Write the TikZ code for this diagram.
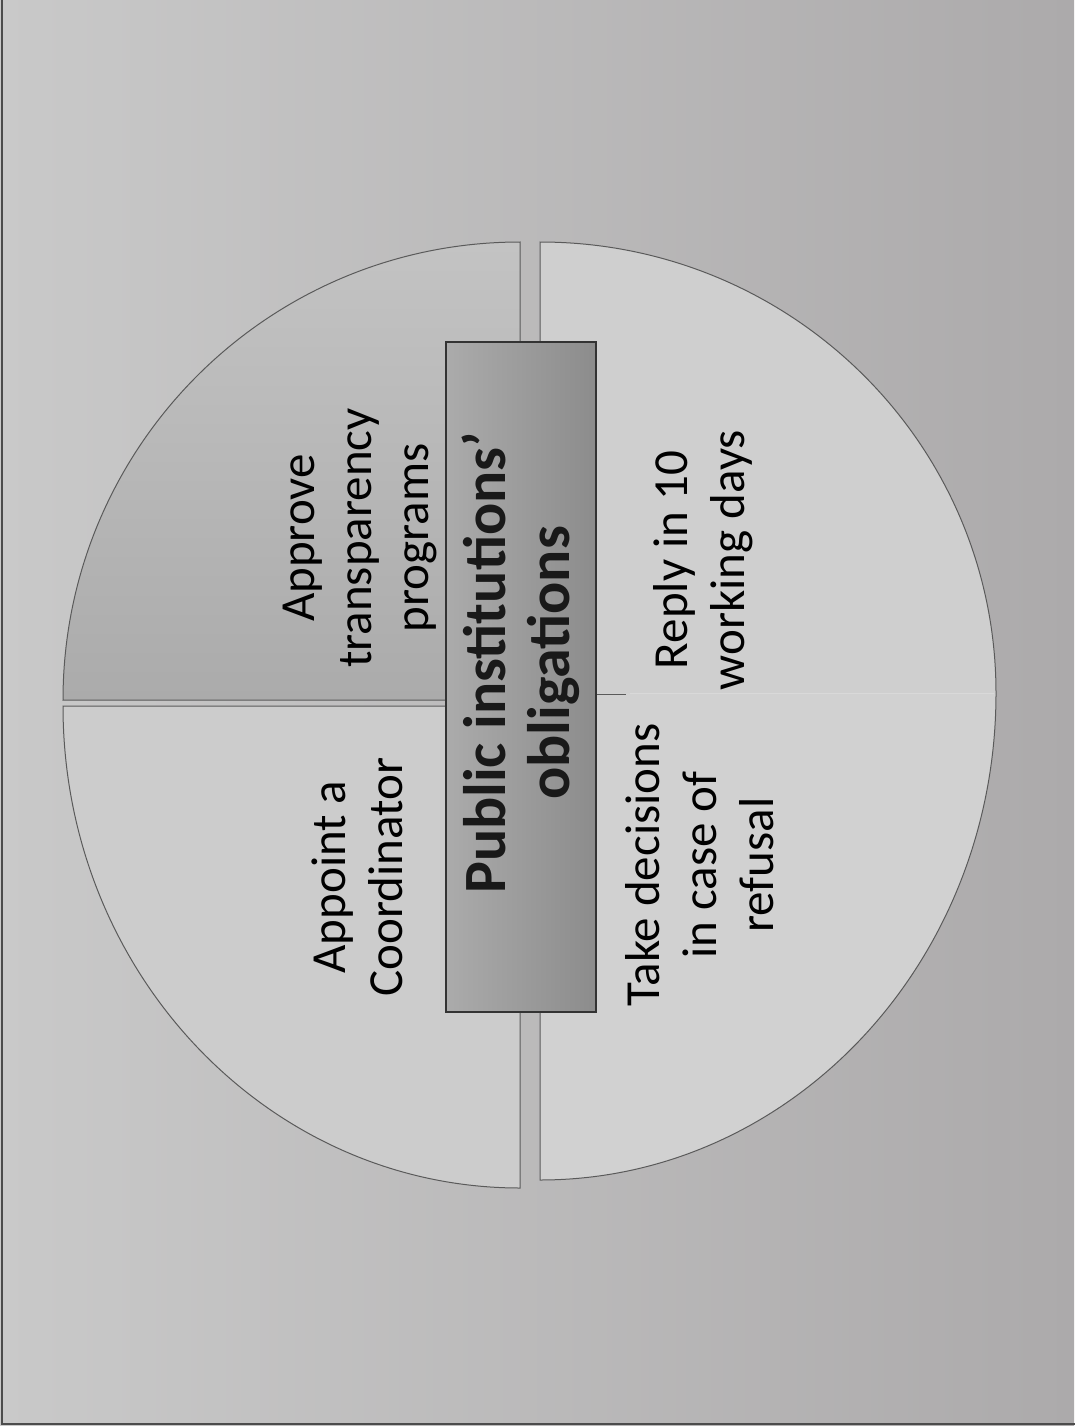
\documentclass[tikz,border=0pt]{standalone}
\usepackage{fontspec}
\setmainfont{Carlito}
\definecolor{bgL}{HTML}{C9C9C9}
\definecolor{bgR}{HTML}{ACAAAB}
\definecolor{edge}{HTML}{5A5A5A}
\definecolor{qTLtop}{HTML}{C3C3C3}
\definecolor{qTLbot}{HTML}{ABABAB}
\definecolor{qBL}{HTML}{CCCCCC}
\definecolor{qTR}{HTML}{CFCFCF}
\definecolor{qBR}{HTML}{D1D1D1}
\definecolor{boxL}{HTML}{ABABAB}
\definecolor{boxR}{HTML}{8C8C8C}
\tikzset{
  quad/.style={draw=edge, line width=1pt},
  qtext/.style={rotate=90, align=center, font=\fontsize{49}{57}\selectfont, text=black},
  ttext/.style={rotate=90, align=center, font=\fontsize{60}{64}\selectfont\bfseries, text=black!90}
}
\begin{document}
\begin{tikzpicture}[x=1pt,y=-1pt]
\useasboundingbox (0,0) rectangle (1074,1426);
% background
\shade[left color=bgL, right color=bgR] (0,0) rectangle (1074,1426);
\draw[draw=black!70, line width=2pt] (2,-10) -- (2,1424) -- (1084,1424);
% quadrants
\path[quad, top color=qTLtop, bottom color=qTLbot]
  (520,700) -- (63,700) arc[start angle=180, end angle=270, x radius=457, y radius=458] -- cycle;
\path[quad, fill=qBL]
  (520,706) -- (520,1188) arc[start angle=90, end angle=180, x radius=457, y radius=482] -- cycle;
\fill[qTR]
  (540,693) -- (540,242) arc[start angle=270, end angle=360, x radius=456, y radius=451] -- cycle;
\fill[qBR]
  (540,693) -- (996,693) arc[start angle=0, end angle=90, x radius=456, y radius=487] -- cycle;
\draw[quad] (540,693) -- (540,242) arc[start angle=270, end angle=360, x radius=456, y radius=451]
  arc[start angle=0, end angle=90, x radius=456, y radius=487] -- cycle;
\draw[draw=white!85!black, line width=1pt] (630,693) -- (994,693);
\coordinate (seamA) at (596,694);
\coordinate (seamB) at (626,694);
\draw[quad] (seamA) -- (seamB);
% centre box
\node[draw=black!80, line width=1.2pt, left color=boxL, right color=boxR,
      minimum width=150pt, minimum height=670pt, inner sep=0pt] (hub) at (521,677) {};
\node[ttext] (title) at (521,663) {Public institutions’\\obligations};
% quadrant texts
\node[qtext] (tl) at (360,538) {Approve\\transparency\\programs};
\node[qtext] (bl) at (357,877) {Appoint a\\Coordinator};
\node[qtext] (tr) at (703,560) {Reply in 10\\working days};
\node[qtext] (br) at (700,865) {Take decisions\\in case of\\refusal};
\end{tikzpicture}
\end{document}
